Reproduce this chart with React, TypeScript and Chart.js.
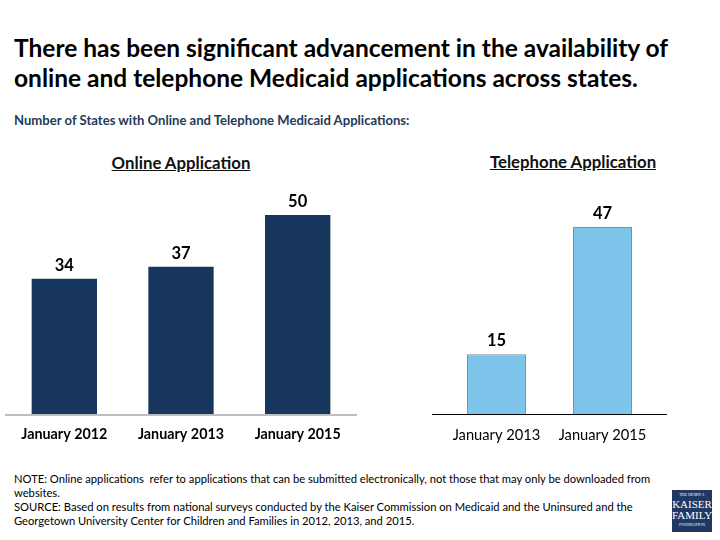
import React, { useEffect, useRef } from "react";
import { Chart, registerables } from "chart.js";
Chart.register(...registerables);

const onlineCategories = ["January 2012", "January 2013", "January 2015"];
const onlineValues = [34, 37, 50];
const phoneCategories = ["January 2013", "January 2015"];
const phoneValues = [15, 47];

const FONT = "Lato, 'Open Sans', sans-serif";

type BarProps = {
  labels: string[];
  values: number[];
  fill: string;
  border: string;
  borderWidth: number;
  tickWeight: string;
  tickSize: number;
  axisColor: string;
  axisWidth: number;
  barPct: number;
  padLeft: number;
  padRight: number;
  extend: number;
};

function BarChart(p: BarProps) {
  const ref = useRef<HTMLCanvasElement | null>(null);
  useEffect(() => {
    if (!ref.current) return;
    const baseline = {
      id: "baseline",
      beforeDatasetsDraw(chart: any) {
        const { ctx, chartArea } = chart;
        ctx.save();
        ctx.strokeStyle = p.axisColor;
        ctx.lineWidth = p.axisWidth;
        ctx.beginPath();
        ctx.moveTo(chartArea.left - p.extend, chartArea.bottom + p.axisWidth / 2);
        ctx.lineTo(chartArea.right + p.extend, chartArea.bottom + p.axisWidth / 2);
        ctx.stroke();
        ctx.restore();
      },
    };
    const valueLabels = {
      id: "valueLabels",
      afterDatasetsDraw(chart: any) {
        const { ctx } = chart;
        const meta = chart.getDatasetMeta(0);
        ctx.save();
        ctx.font = `bold 16.5px ${FONT}`;
        ctx.fillStyle = "#000";
        ctx.textAlign = "center";
        ctx.textBaseline = "alphabetic";
        meta.data.forEach((el: any, i: number) => {
          ctx.fillText(String(p.values[i]), el.x, el.y - 8);
        });
        ctx.restore();
      },
    };
    const chart = new Chart(ref.current, {
      type: "bar",
      data: {
        labels: p.labels,
        datasets: [
          {
            data: p.values,
            backgroundColor: p.fill,
            borderColor: p.border,
            borderWidth: p.borderWidth,
            categoryPercentage: 1,
            barPercentage: p.barPct,
          },
        ],
      },
      options: {
        animation: false,
        responsive: true,
        maintainAspectRatio: false,
        layout: { padding: { left: p.padLeft, right: p.padRight, top: 10, bottom: 0 } },
        plugins: { legend: { display: false }, tooltip: { enabled: false } },
        scales: {
          x: {
            grid: { display: false, drawTicks: false },
            border: { display: false },
            ticks: {
              color: "#000",
              padding: 12,
              font: { family: FONT, size: p.tickSize, weight: p.tickWeight as any },
            },
            afterFit: (s: any) => {
              s.height = 36;
            },
          },
          y: { display: false, min: 0, max: 56.3 },
        },
      },
      plugins: [baseline, valueLabels],
    });
    return () => chart.destroy();
  }, []);
  return <canvas ref={ref} />;
}

export default function App() {
  return (
    <div
      style={{
        position: "absolute",
        left: 0,
        top: 0,
        width: 720,
        height: 540,
        background: "#fff",
        fontFamily: FONT,
        overflow: "hidden",
      }}
    >
      <div
        style={{
          position: "absolute",
          left: 14,
          top: 33,
          fontSize: 24.5,
          fontWeight: 700,
          lineHeight: "30px",
          color: "#000",
          whiteSpace: "nowrap",
        }}
      >
        There has been significant advancement in the availability of
        <br />
        online and telephone Medicaid applications across states.
      </div>
      <div
        style={{
          position: "absolute",
          left: 14,
          top: 112,
          fontSize: 13.1,
          fontWeight: 700,
          lineHeight: "16px",
          color: "#1F3A5A",
          whiteSpace: "nowrap",
        }}
      >
        Number of States with Online and Telephone Medicaid Applications:
      </div>
      <div
        style={{
          position: "absolute",
          left: 81,
          width: 200,
          top: 152,
          textAlign: "center",
          fontSize: 16.8,
          fontWeight: 700,
          lineHeight: "22px",
          textDecoration: "underline",
          color: "#111",
        }}
      >
        Online Application
      </div>
      <div
        style={{
          position: "absolute",
          left: 463,
          width: 220,
          top: 151,
          textAlign: "center",
          fontSize: 16.8,
          fontWeight: 700,
          lineHeight: "22px",
          textDecoration: "underline",
          color: "#111",
        }}
      >
        Telephone Application
      </div>
      <div style={{ position: "absolute", left: 0, top: 180, width: 362, height: 270 }}>
        <BarChart
          labels={onlineCategories}
          values={onlineValues}
          fill="#17365D"
          border="#17365D"
          borderWidth={0}
          tickWeight="bold"
          tickSize={14.3}
          axisColor="#BFBFBF"
          axisWidth={2}
          barPct={0.56}
          padLeft={6}
          padRight={6}
          extend={1}
        />
      </div>
      <div style={{ position: "absolute", left: 420, top: 180, width: 260, height: 270 }}>
        <BarChart
          labels={phoneCategories}
          values={phoneValues}
          fill="#7EC5EC"
          border="#7F8F9C"
          borderWidth={1}
          tickWeight="normal"
          tickSize={14.7}
          axisColor="#000"
          axisWidth={1}
          barPct={0.557}
          padLeft={23.5}
          padRight={24.5}
          extend={11.5}
        />
      </div>
      <div
        style={{
          position: "absolute",
          left: 14,
          top: 472,
          fontSize: 11.2,
          lineHeight: "14px",
          color: "#000",
          whiteSpace: "nowrap",
        }}
      >
        NOTE: Online applications&nbsp; refer to applications that can be submitted electronically, not those that may only be downloaded from
        <br />
        websites.
        <br />
        SOURCE: Based on results from national surveys conducted by the Kaiser Commission on Medicaid and the Uninsured and the
        <br />
        Georgetown University Center for Children and Families in 2012, 2013, and 2015.
      </div>
      <div
        style={{
          position: "absolute",
          left: 672,
          top: 490,
          width: 40,
          height: 42,
          background: "#1F3864",
          color: "#fff",
          textAlign: "center",
          fontFamily: "'Liberation Serif', serif",
          lineHeight: 1,
        }}
      >
        <div style={{ fontSize: 4, marginTop: 3 }}>THE HENRY J.</div>
        <div style={{ fontSize: 11, marginTop: 2 }}>KAISER</div>
        <div style={{ fontSize: 11 }}>FAMILY</div>
        <div style={{ fontSize: 4, marginTop: 2 }}>FOUNDATION</div>
      </div>
    </div>
  );
}
